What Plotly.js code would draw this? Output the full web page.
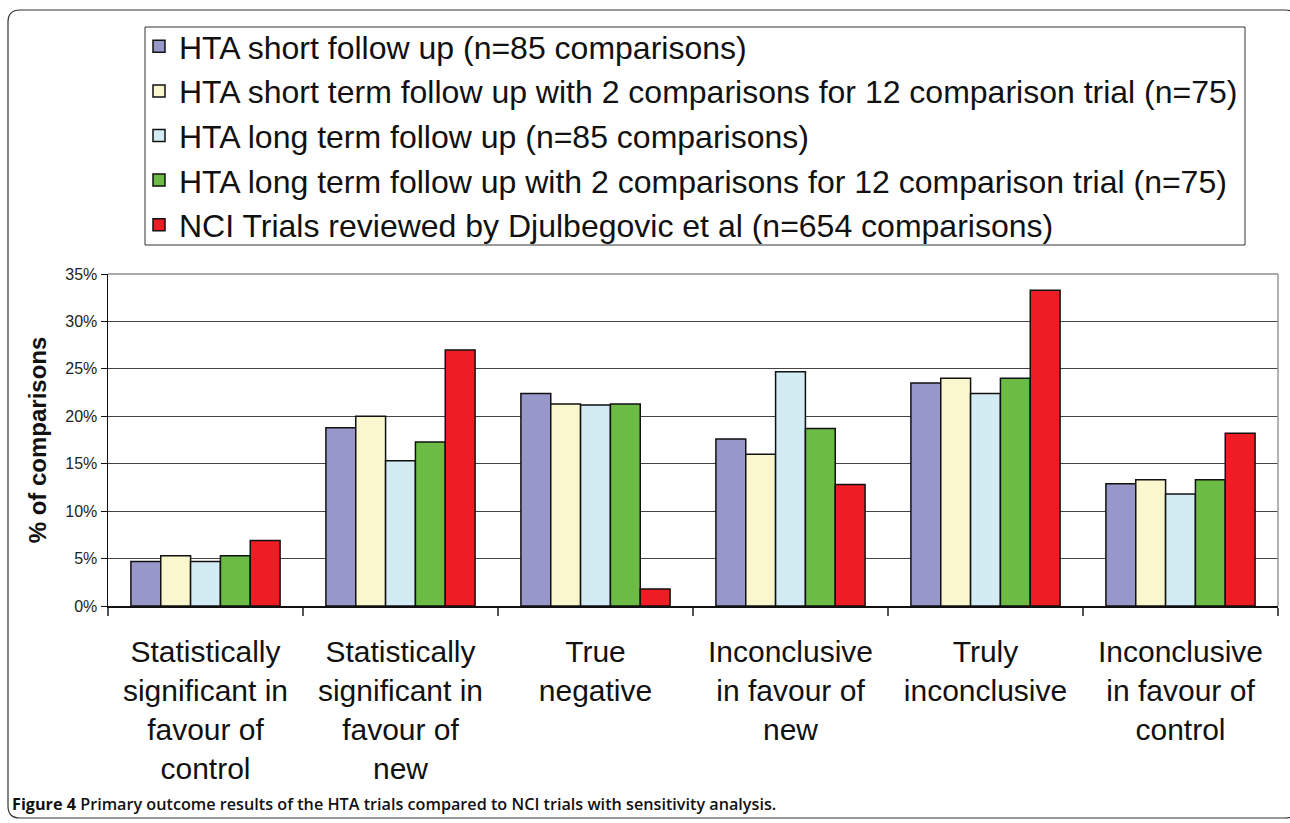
<!DOCTYPE html>
<html>
<head>
<meta charset="utf-8">
<script src="https://cdn.plot.ly/plotly-3.0.1.min.js"></script>
<style>
html,body{margin:0;padding:0;background:#fff;}
#chart{width:1290px;height:823px;}
</style>
</head>
<body>
<div id="chart"></div>
<script>
// ---- data ----
const categories = [
  "Statistically<br>significant in<br>favour of<br>control",
  "Statistically<br>significant in<br>favour of<br>new",
  "True<br>negative",
  "Inconclusive<br>in favour of<br>new",
  "Truly<br>inconclusive",
  "Inconclusive<br>in favour of<br>control"
];
const seriesNames = [
  "HTA short follow up (n=85 comparisons)",
  "HTA short term follow up with 2 comparisons for 12 comparison trial (n=75)",
  "HTA long term follow up (n=85 comparisons)",
  "HTA long term follow up with 2 comparisons for 12 comparison trial (n=75)",
  "NCI Trials reviewed by Djulbegovic et al (n=654 comparisons)"
];
const htaShort      = [4.7, 18.8, 22.4, 17.6, 23.5, 12.9];
const htaShortAdj   = [5.3, 20.0, 21.3, 16.0, 24.0, 13.3];
const htaLong       = [4.7, 15.3, 21.2, 24.7, 22.4, 11.8];
const htaLongAdj    = [5.3, 17.3, 21.3, 18.7, 24.0, 13.3];
const nciTrials     = [6.9, 27.0, 1.8, 12.8, 33.3, 18.2];
const yTickVals = [0, 5, 10, 15, 20, 25, 30, 35];
const captionBold = "Figure 4";
const captionText = "Primary outcome results of the HTA trials compared to NCI trials with sensitivity analysis.";

// ---- styles ----
const colors = ["#9797CA", "#FAF7CF", "#D3ECF3", "#6BBB45", "#EE1D24"];
const seriesValues = [htaShort, htaShortAdj, htaLong, htaLongAdj, nciTrials];

const traces = seriesValues.map((vals, i) => ({
  type: "bar",
  name: seriesNames[i],
  x: categories,
  y: vals,
  legendgroup: "g" + i,
  marker: {color: colors[i], line: {color: "#111", width: 1.5}},
  hoverinfo: "y+name"
}));

const W = 1290, H = 823;
const mL = 108, mR = 12, mT = 274, mB = 217;
const pw = W - mL - mR, ph = H - mT - mB;
const px = v => (v - mL) / pw;
const py = v => (H - mB - v) / ph;

// rounded frame path in paper coords
function framePath(x0, y0, x1, y1, r) {
  const X = px, Y = py;
  return `M ${X(x0 + r)},${Y(y0)} L ${X(x1 - r)},${Y(y0)} Q ${X(x1)},${Y(y0)} ${X(x1)},${Y(y0 + r)} ` +
         `L ${X(x1)},${Y(y1 - r)} Q ${X(x1)},${Y(y1)} ${X(x1 - r)},${Y(y1)} ` +
         `L ${X(x0 + r)},${Y(y1)} Q ${X(x0)},${Y(y1)} ${X(x0)},${Y(y1 - r)} ` +
         `L ${X(x0)},${Y(y0 + r)} Q ${X(x0)},${Y(y0)} ${X(x0 + r)},${Y(y0)} Z`;
}

const layout = {
  width: W, height: H,
  margin: {l: mL, r: mR, t: mT, b: mB, autoexpand: false},
  paper_bgcolor: "#fff",
  plot_bgcolor: "#fff",
  font: {family: "Liberation Sans, Arial, sans-serif", color: "#111"},
  barmode: "group",
  bargap: 0.235,
  bargroupgap: 0,
  showlegend: true,
  legend: {
    xref: "paper", yref: "paper",
    x: px(139), y: py(19), xanchor: "left", yanchor: "top",
    bgcolor: "rgba(0,0,0,0)", borderwidth: 0,
    font: {size: 32, family: "Liberation Sans, Arial, sans-serif", color: "#111"},
    traceorder: "grouped", tracegroupgap: 0,
    itemwidth: 30
  },
  xaxis: {
    type: "category",
    showline: true, linecolor: "#111", linewidth: 1.5,
    ticks: "outside", tickson: "boundaries", ticklen: 8, tickcolor: "#555", tickwidth: 1.5,
    tickfont: {size: 30, family: "Liberation Sans, Arial, sans-serif", color: "#111"},
    tickangle: 0,
    showgrid: false, mirror: false,
    ticklabelstandoff: 18
  },
  yaxis: {
    range: [0, 35],
    tickvals: yTickVals,
    ticktext: yTickVals.map(v => v + "%"),
    showline: true, linecolor: "#111", linewidth: 1.5,
    ticks: "outside", ticklen: 6, tickcolor: "#111",
    tickfont: {size: 16, color: "#222"},
    showgrid: true, gridcolor: "#444", gridwidth: 1,
    zeroline: false,
    title: {text: "<b>% of comparisons</b>", font: {size: 24, color: "#111"}, standoff: 12}
  },
  shapes: [
    {type: "line", xref: "paper", yref: "paper", x0: 0, x1: 1, y0: 1, y1: 1,
     line: {color: "#aaa", width: 2}},
    {type: "line", xref: "paper", yref: "paper", x0: 1, x1: 1, y0: 0, y1: 1,
     line: {color: "#999", width: 1.5}},
    {type: "rect", xref: "paper", yref: "paper", x0: px(145), x1: px(1245), y0: py(27), y1: py(245),
     line: {color: "#333", width: 1}, fillcolor: "rgba(0,0,0,0)", layer: "below"},
    {type: "path", xref: "paper", yref: "paper", path: framePath(8, 10, 1297, 818, 12),
     line: {color: "#333", width: 1.2}, fillcolor: "rgba(0,0,0,0)", layer: "below"}
  ],
  annotations: [
    {xref: "paper", yref: "paper", x: px(10), y: py(804), xanchor: "left", yanchor: "middle",
     showarrow: false, align: "left",
     text: "<b>" + captionBold + "</b> " + captionText,
     font: {family: "Open Sans, sans-serif", size: 16.2, color: "#111", weight: 600}}
  ]
};

Plotly.newPlot("chart", traces, layout, {displayModeBar: false, staticPlot: true});
</script>
</body>
</html>
